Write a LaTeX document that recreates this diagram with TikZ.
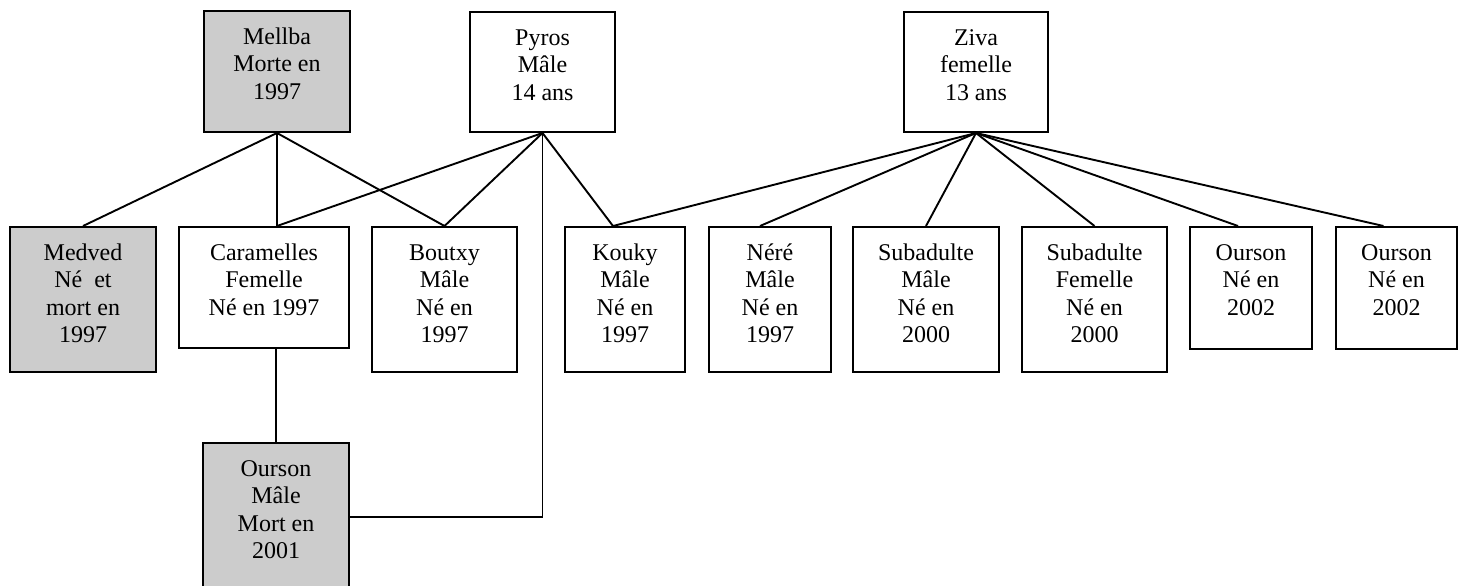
\documentclass[tikz,border=0pt]{standalone}
\usepackage{fontspec}
\setmainfont{Liberation Serif}
\begin{document}
\begin{tikzpicture}[x=1pt,y=-1pt,
  box/.style={draw,line width=2pt,inner sep=0pt,fill=white},
  dead/.style={box,fill=black!20},
  txt/.style={anchor=north,inner sep=0pt,align=center,font=\fontsize{24}{27.5}\selectfont},
  link/.style={line width=1.9pt}]
\clip (0,0) rectangle (1462,586);
\fill[white] (0,0) rectangle (1462,586);
% parents
\node[dead,minimum width=146pt,minimum height=121pt] (mellba) at (277,71.5) {};
\node[box,minimum width=145pt,minimum height=120pt] (pyros) at (542.5,72) {};
\node[box,minimum width=144pt,minimum height=120pt] (ziva) at (976,72) {};
% children
\node[dead,minimum width=146pt,minimum height=145pt] (medved) at (83,299.5) {};
\node[box,minimum width=170pt,minimum height=121pt] (caramelles) at (264,287.5) {};
\node[box,minimum width=145pt,minimum height=145pt] (boutxy) at (444.5,299.5) {};
\node[box,minimum width=120pt,minimum height=145pt] (kouky) at (625,299.5) {};
\node[box,minimum width=122pt,minimum height=145pt] (nere) at (770,299.5) {};
\node[box,minimum width=146pt,minimum height=145pt] (subm) at (926,299.5) {};
\node[box,minimum width=145pt,minimum height=145pt] (subf) at (1094.5,299.5) {};
\node[box,minimum width=122pt,minimum height=122pt] (oursonA) at (1251,288) {};
\node[box,minimum width=121pt,minimum height=122pt] (oursonB) at (1396.5,288) {};
\node[dead,minimum width=146pt,minimum height=148pt] (oursonM) at (276,517) {};
% texts
\node[txt] (mellbaT) at ([yshift=-15pt]mellba.north) {\strut Mellba\\Morte en\\1997};
\node[txt] (pyrosT) at ([yshift=-15pt]pyros.north) {\strut Pyros\\M\^ale\\14 ans};
\node[txt] (zivaT) at ([yshift=-15pt]ziva.north) {\strut Ziva\\femelle\\13 ans};
\node[txt] (medvedT) at ([yshift=-15pt]medved.north) {\strut Medved\\N\'e\ \ et\\mort en\\1997};
\node[txt] (caramellesT) at ([yshift=-15pt]caramelles.north) {\strut Caramelles\\Femelle\\N\'e en 1997};
\node[txt] (boutxyT) at ([yshift=-15pt]boutxy.north) {\strut Boutxy\\M\^ale\\N\'e en\\1997};
\node[txt] (koukyT) at ([yshift=-15pt]kouky.north) {\strut Kouky\\M\^ale\\N\'e en\\1997};
\node[txt] (nereT) at ([yshift=-15pt]nere.north) {\strut N\'er\'e\\M\^ale\\N\'e en\\1997};
\node[txt] (submT) at ([yshift=-15pt]subm.north) {\strut Subadulte\\M\^ale\\N\'e en\\2000};
\node[txt] (subfT) at ([yshift=-15pt]subf.north) {\strut Subadulte\\Femelle\\N\'e en\\2000};
\node[txt] (oursonAT) at ([yshift=-15pt]oursonA.north) {\strut Ourson\\N\'e en\\2002};
\node[txt] (oursonBT) at ([yshift=-15pt]oursonB.north) {\strut Ourson\\N\'e en\\2002};
\node[txt] (oursonMT) at ([yshift=-15pt]oursonM.north) {\strut Ourson\\M\^ale\\Mort en\\2001};
% attachment points
\coordinate (carTop) at (mellba.south |- caramelles.north);
\coordinate (carBot) at (oursonM.north |- caramelles.south);
\coordinate (kouTop) at ([xshift=-12pt]kouky.north);
\coordinate (nereTop) at ([xshift=-10pt]nere.north);
\coordinate (oursonATop) at ([xshift=-13pt]oursonA.north);
\coordinate (oursonBTop) at ([xshift=-13pt]oursonB.north);
% links from Mellba
\draw[link] (mellba.south) -- (medved.north);
\draw[link] (mellba.south) -- (carTop);
\draw[link] (mellba.south) -- (boutxy.north);
% links from Pyros
\draw[link] (pyros.south) -- (carTop);
\draw[link] (pyros.south) -- (boutxy.north);
\draw[link] (pyros.south) -- (kouTop);
\draw[link] (pyros.south) -- (pyros.south |- oursonM.east) -- (oursonM.east);
% links from Ziva
\draw[link] (ziva.south) -- (kouTop);
\draw[link] (ziva.south) -- (nereTop);
\draw[link] (ziva.south) -- (subm.north);
\draw[link] (ziva.south) -- (subf.north);
\draw[link] (ziva.south) -- (oursonATop);
\draw[link] (ziva.south) -- (oursonBTop);
% Caramelles to Ourson
\draw[link] (carBot) -- (oursonM.north);
\end{tikzpicture}
\end{document}
